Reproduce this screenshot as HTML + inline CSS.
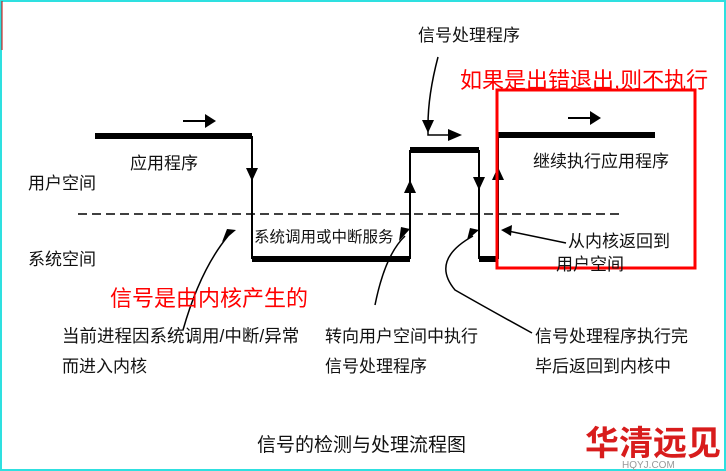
<!DOCTYPE html>
<html><head><meta charset="utf-8"><style>
html,body{margin:0;padding:0;background:#fff}
.w{position:relative;width:726px;height:471px;overflow:hidden}
svg{position:absolute;left:0;top:0}
text{font-family:"Liberation Sans","Noto Sans CJK SC",sans-serif}
</style></head><body><div class="w">
<svg width="726" height="471" viewBox="0 0 726 471">
<rect x="1" y="1" width="724" height="469" fill="none" stroke="#2ee0e0" stroke-width="2"/>
<line x1="2" y1="1" x2="2" y2="50" stroke="#c00" stroke-width="1"/>
<g stroke="#000" fill="none">
<polyline points="95,136 252,136" stroke-width="6"/>
<line x1="252" y1="136" x2="252" y2="259" stroke-width="2"/>
<line x1="252" y1="259" x2="410" y2="259" stroke-width="6"/>
<line x1="410" y1="259" x2="410" y2="150" stroke-width="2"/>
<line x1="410" y1="150" x2="479" y2="150" stroke-width="6"/>
<line x1="479" y1="150" x2="479" y2="259" stroke-width="2"/>
<line x1="479" y1="259" x2="498" y2="259" stroke-width="6"/>
<line x1="498" y1="259" x2="498" y2="135" stroke-width="2"/>
<line x1="498" y1="135" x2="655" y2="135" stroke-width="6"/>
<line x1="78" y1="214" x2="620" y2="214" stroke-width="1.5" stroke-dasharray="9,5"/>
<line x1="183" y1="121" x2="205" y2="121" stroke-width="2"/>
<line x1="568" y1="118" x2="590" y2="118" stroke-width="2"/>
<path d="M438,57 Q428,95 428,125" stroke-width="1.5"/>
<polyline points="428,130 428,135 450,135" stroke-width="1.5"/>
<path d="M183,330 Q200,270 228,236" stroke-width="1.5"/>
<path d="M375,305 Q385,255 405,236" stroke-width="1.5"/>
<path d="M532,333 Q490,310 455,290 Q430,260 473,236" stroke-width="1.5"/>
<line x1="566" y1="243" x2="508" y2="231" stroke-width="1.5"/>
</g>
<g fill="#000">
<polygon points="205,114 205,128 216,121"/>
<polygon points="590,111 590,125 601,118"/>
<polygon points="246,168 258,168 252,181"/>
<polygon points="404,193 416,193 410,180"/>
<polygon points="473,177 485,177 479,190"/>
<polygon points="492,180 504,180 498,167"/>
<polygon points="422,120 434,120 428,133"/>
<polygon points="448,129 448,141 462,135"/>
<polygon points="222,242 236,230 227,229"/>
<polygon points="399,241 410,229 401,227"/>
<polygon points="467,240 479,230 470,228"/>
<polygon points="501,230 512,225 511,236"/>
</g>
<rect x="497" y="90" width="198" height="178" fill="none" stroke="#f00" stroke-width="3"/>
<g font-size="17" fill="#111">
<text x="130" y="169">应用程序</text>
<text x="28" y="189">用户空间</text>
<text x="28" y="265">系统空间</text>
<text x="254" y="242" font-size="15.5">系统调用或中断服务</text>
<text x="533" y="167">继续执行应用程序</text>
<text x="568" y="247">从内核返回到</text>
<text x="556" y="270">用户空间</text>
<text x="418" y="41">信号处理程序</text>
<text x="62" y="342" font-size="17.5">当前进程因系统调用/中断/异常</text>
<text x="62" y="372">而进入内核</text>
<text x="325" y="342">转向用户空间中执行</text>
<text x="325" y="372">信号处理程序</text>
<text x="535" y="342">信号处理程序执行完</text>
<text x="535" y="372">毕后返回到内核中</text>
<text x="257" y="451" font-size="19">信号的检测与处理流程图</text>
</g>
<text x="460" y="88" font-size="22" fill="#f00">如果是出错退出,则不执行</text>
<text x="110" y="306" font-size="22" fill="#f00">信号是由内核产生的</text>
<text x="585" y="455" font-size="34" font-weight="bold" fill="#d81c1c">华清远见</text>
<text x="622" y="468" font-size="10" fill="#999">HQYJ.COM</text>
</svg>
</div></body></html>
